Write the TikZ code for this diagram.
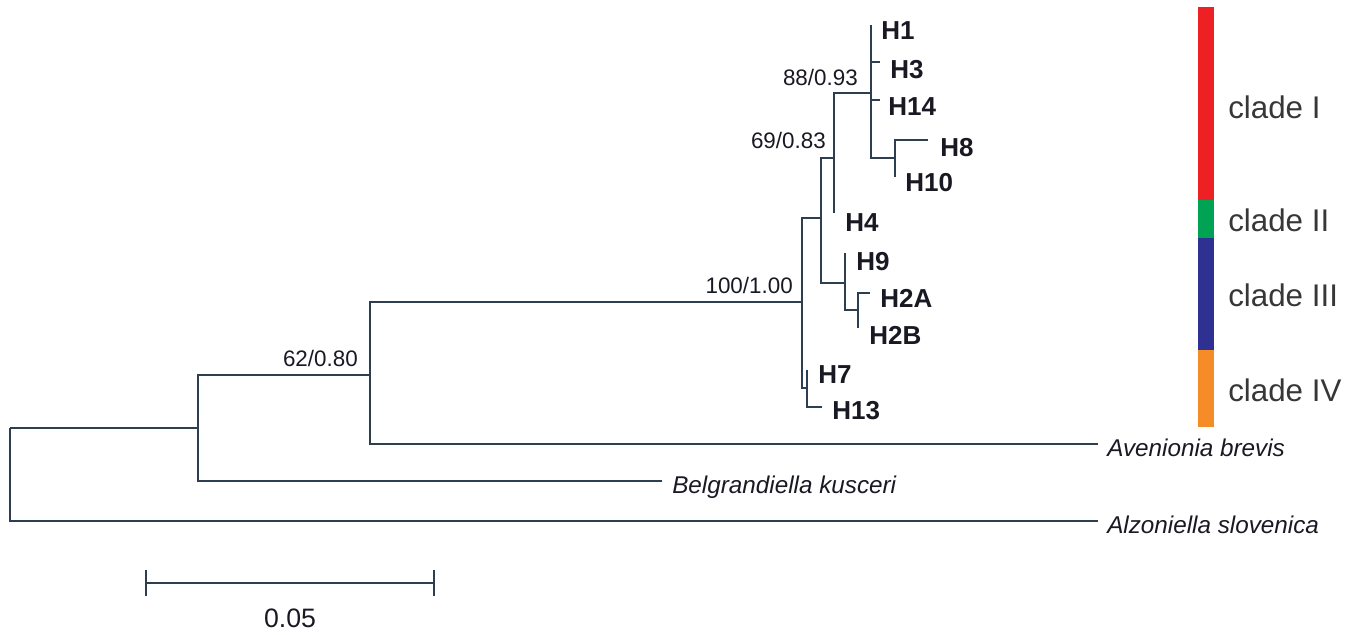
\documentclass[tikz,border=0pt]{standalone}
\usepackage{fontspec}
\setmainfont{Liberation Sans}
\definecolor{linec}{RGB}{44,62,80}
\definecolor{txtc}{RGB}{25,25,35}
\definecolor{cred}{RGB}{237,32,36}
\definecolor{cgreen}{RGB}{0,163,84}
\definecolor{cblue}{RGB}{46,49,146}
\definecolor{corange}{RGB}{245,140,40}
\definecolor{cladetxt}{RGB}{55,55,55}
\begin{document}
\begin{tikzpicture}[x=0.75pt,y=-0.75pt,
  br/.style={draw=linec, line width=1.5pt},
  tiplab/.style={anchor=base west, inner sep=0pt, text=txtc, font=\fontsize{19.5}{22}\selectfont\bfseries},
  splab/.style={anchor=base west, inner sep=0pt, text=txtc, font=\fontsize{18.2}{21}\selectfont\itshape},
  suplab/.style={anchor=east, inner sep=0pt, text=txtc, font=\fontsize{16.8}{19}\selectfont},
  cladelab/.style={anchor=west, inner sep=0pt, text=cladetxt, font=\fontsize{23.5}{27}\selectfont},
  bar/.style={draw=none}]
\useasboundingbox (0,0) rectangle (1367,635);
% tree coordinates
\coordinate (R) at (10,428);
\coordinate (A) at (198,428);
\coordinate (Alz) at (1098,521);
\coordinate (B) at (370,375);
\coordinate (Bel) at (662,481);
\coordinate (C) at (802,302);
\coordinate (Ave) at (1098,444);
\coordinate (D) at (821,218);
\coordinate (J) at (807,388);
\coordinate (E) at (834,158);
\coordinate (Hn) at (845,283);
\coordinate (F) at (871,93);
\coordinate (t4) at (834,213);
\coordinate (t1) at (871,25);
\coordinate (t3) at (880,62);
\coordinate (t14) at (880,100);
\coordinate (G) at (895,158);
\coordinate (t8) at (928,140);
\coordinate (t10) at (895,177);
\coordinate (t9) at (845,253);
\coordinate (I) at (858,310);
\coordinate (t2A) at (870,293);
\coordinate (t2B) at (858,328);
\coordinate (t7) at (807,370);
\coordinate (t13) at (822,407);
% branches
\draw[br] (R) |- (A);
\draw[br] (R) |- (Alz);
\draw[br] (A) |- (B);
\draw[br] (A) |- (Bel);
\draw[br] (B) |- (C);
\draw[br] (B) |- (Ave);
\draw[br] (C) |- (D);
\draw[br] (C) |- (J);
\draw[br] (D) |- (E);
\draw[br] (D) |- (Hn);
\draw[br] (E) |- (F);
\draw[br] (E) |- (t4);
\draw[br] (F) |- (t1);
\draw[br] (F) |- (t3);
\draw[br] (F) |- (t14);
\draw[br] (F) |- (G);
\draw[br] (G) |- (t8);
\draw[br] (G) |- (t10);
\draw[br] (Hn) |- (t9);
\draw[br] (Hn) |- (I);
\draw[br] (I) |- (t2A);
\draw[br] (I) |- (t2B);
\draw[br] (J) |- (t7);
\draw[br] (J) |- (t13);
% tip labels
\node[tiplab] (l1) at ([shift={(10,15)}]t1) {H1};
\node[tiplab] (l3) at ([shift={(10,17)}]t3) {H3};
\node[tiplab] (l14) at ([shift={(8,15)}]t14) {H14};
\node[tiplab] (l8) at ([shift={(12,16)}]t8) {H8};
\node[tiplab] (l10) at ([shift={(10,14)}]t10) {H10};
\node[tiplab] (l4) at ([shift={(11,18)}]t4) {H4};
\node[tiplab] (l9) at ([shift={(11,17)}]t9) {H9};
\node[tiplab] (l2A) at ([shift={(10,14)}]t2A) {H2A};
\node[tiplab] (l2B) at ([shift={(11,16)}]t2B) {H2B};
\node[tiplab] (l7) at ([shift={(11,13)}]t7) {H7};
\node[tiplab] (l13) at ([shift={(10,12)}]t13) {H13};
\node[splab] (lAve) at ([shift={(9,12)}]Ave) {Avenionia brevis};
\node[splab] (lBel) at ([shift={(10,12)}]Bel) {Belgrandiella kusceri};
\node[splab] (lAlz) at ([shift={(9,12)}]Alz) {Alzoniella slovenica};
% support values
\node[suplab] (sF) at (858,77) {88/0.93};
\node[suplab] (sE) at (826,140) {69/0.83};
\node[suplab] (sC) at (793,285) {100/1.00};
\node[suplab] (sB) at (358,358) {62/0.80};
% clade bars
\fill[cred] (1198,7) rectangle (1214,200);
\fill[cgreen] (1198,200) rectangle (1214,238);
\fill[cblue] (1198,238) rectangle (1214,350);
\fill[corange] (1198,350) rectangle (1214,427);
\node[cladelab] (c1) at (1228,107) {clade I};
\node[cladelab] (c2) at (1228,220) {clade II};
\node[cladelab] (c3) at (1228,295) {clade III};
\node[cladelab] (c4) at (1228,390) {clade IV};
% scale bar
\coordinate (s0) at (146,583);
\coordinate (s1) at (434,583);
\draw[br] (s0) -- (s1);
\draw[br] ([yshift=-10]s0) -- ([yshift=10]s0);
\draw[br] ([yshift=-10]s1) -- ([yshift=10]s1);
\node[inner sep=0pt, text=txtc, font=\fontsize{20}{23}\selectfont] (sl) at (290,618) {0.05};
\end{tikzpicture}
\end{document}
